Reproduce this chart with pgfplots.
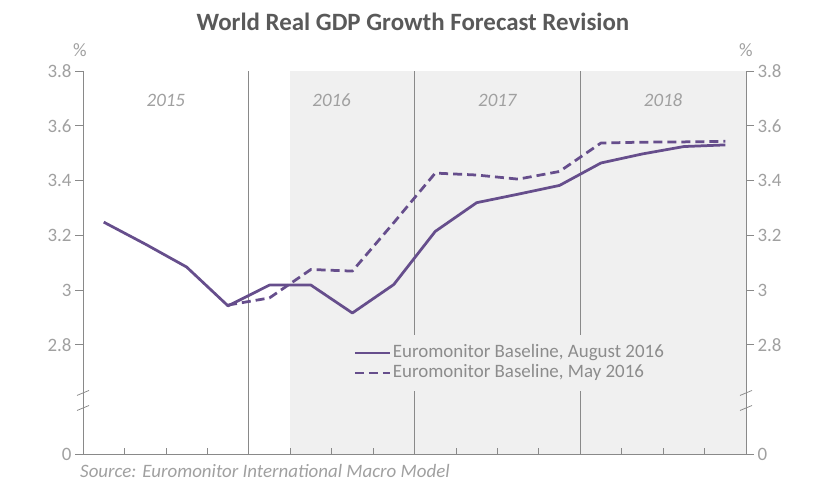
\documentclass[border=0pt]{standalone}
\usepackage{pgfplots}
\pgfplotsset{compat=1.18}
\usepackage{fontspec}
\setmainfont{Carlito}
\definecolor{purp}{RGB}{102,78,140}
\definecolor{bgshade}{RGB}{240,240,240}
\definecolor{axgray}{RGB}{137,137,137}
\definecolor{lblgray}{RGB}{160,160,160}
\definecolor{txtgray}{RGB}{140,140,140}
\definecolor{titlegray}{RGB}{89,89,89}
\begin{document}
\begin{tikzpicture}[x=1bp,y=1bp]
\path[use as bounding box] (0,0) rectangle (830,493);
\begin{axis}[
  at={(83bp,39bp)}, anchor=south west,
  scale only axis, width=663bp, height=383bp,
  xmin=0, xmax=16, ymin=2.401, ymax=3.8,
  axis line style={draw=none},
  xtick=\empty,
  ytick={2.401,2.8,3,3.2,3.4,3.6,3.8},
  yticklabels={0,2.8,3,3.2,3.4,3.6,3.8},
  ytick pos=left, tick align=outside, major tick length=8bp,
  tick style={axgray, line width=0.75bp},
  yticklabel style={font=\fontsize{19}{22}\selectfont, text=lblgray},
  /pgf/number format/assume math mode=true,
  clip=false,
  legend style={at={(axis cs:6.38,2.836)}, anchor=north west, draw=none, fill=bgshade,
    font=\fontsize{19}{20}\selectfont, text=txtgray, inner xsep=6bp, inner ysep=8bp,
    row sep=0bp, nodes={inner sep=1.5bp, text height=13bp, text depth=4bp},
    cells={anchor=west}},
  legend image code/.code={\draw[#1] (0bp,0bp) -- (35bp,0bp);},
]
\fill[bgshade] (axis cs:5,2.401) rectangle (axis cs:16,3.8);
\draw[axgray, line width=0.75bp] (axis cs:4,2.401) -- (axis cs:4,3.8);
\draw[axgray, line width=0.75bp] (axis cs:8,2.401) -- (axis cs:8,3.8);
\draw[axgray, line width=0.75bp] (axis cs:12,2.401) -- (axis cs:12,3.8);
\draw[axgray, line width=0.75bp] (axis cs:0,3.8) -- (axis cs:0,2.401) -- (axis cs:16,2.401) -- (axis cs:16,3.8);
\pgfplotsinvokeforeach{1,...,15}{\draw[axgray, line width=0.75bp] (axis cs:#1,2.401) -- ++(0bp,6bp);}
\draw[axgray, line width=0.75bp] (axis cs:0,2.624) ++(-6bp,-2.5bp) -- ++(12bp,5bp);
\draw[axgray, line width=0.75bp] (axis cs:0,2.569) ++(-6bp,-2.5bp) -- ++(12bp,5bp);
\draw[axgray, line width=0.75bp] (axis cs:16,2.624) ++(-6bp,-2.5bp) -- ++(12bp,5bp);
\draw[axgray, line width=0.75bp] (axis cs:16,2.569) ++(-6bp,-2.5bp) -- ++(12bp,5bp);
\node[font=\itshape\fontsize{19}{22}\selectfont, text=lblgray] at (axis cs:2,3.694) {2015};
\node[font=\itshape\fontsize{19}{22}\selectfont, text=lblgray] at (axis cs:6,3.694) {2016};
\node[font=\itshape\fontsize{19}{22}\selectfont, text=lblgray] at (axis cs:10,3.694) {2017};
\node[font=\itshape\fontsize{19}{22}\selectfont, text=lblgray] at (axis cs:14,3.694) {2018};
\addplot[purp, line width=2.75bp, line join=round] coordinates {
(0.5,3.248) (1.5,3.168) (2.5,3.084) (3.5,2.942) (4.5,3.018) (5.5,3.018) (6.5,2.916) (7.5,3.020)
(8.5,3.214) (9.5,3.319) (10.5,3.350) (11.5,3.382) (12.5,3.464) (13.5,3.497) (14.5,3.524) (15.5,3.530)};
\addlegendentry{Euromonitor Baseline, August 2016}
\addplot[purp, line width=2.75bp, line join=round, dash pattern=on 9bp off 5bp] coordinates {
(3.5,2.945) (4.5,2.971) (5.5,3.075) (6.5,3.069) (7.5,3.246) (8.5,3.427) (9.5,3.420) (10.5,3.405)
(11.5,3.433) (12.5,3.537) (13.5,3.540) (14.5,3.541) (15.5,3.543)};
\addlegendentry{Euromonitor Baseline, May 2016}
\end{axis}
\begin{axis}[
  at={(83bp,39bp)}, anchor=south west,
  scale only axis, width=663bp, height=383bp,
  xmin=0, xmax=16, ymin=2.401, ymax=3.8,
  axis line style={draw=none},
  xtick=\empty,
  ytick={2.401,2.8,3,3.2,3.4,3.6,3.8},
  yticklabels={0,2.8,3,3.2,3.4,3.6,3.8},
  ytick pos=right, yticklabel pos=right, tick align=outside, major tick length=8bp,
  tick style={axgray, line width=0.75bp},
  yticklabel style={font=\fontsize{19}{22}\selectfont, text=lblgray},
  /pgf/number format/assume math mode=true,
]
\end{axis}
\node[font=\bfseries\fontsize{25}{30}\selectfont, text=titlegray] at (413,471) {World Real GDP Growth Forecast Revision};
\node[font=\itshape\fontsize{19}{22}\selectfont, text=lblgray, anchor=west, inner sep=0pt] at (80,22) {Source: Euromonitor International Macro Model};
\node[font=\fontsize{19}{22}\selectfont, text=lblgray] at (80,443) {\%};
\node[font=\fontsize{19}{22}\selectfont, text=lblgray] at (746,443) {\%};
\end{tikzpicture}
\end{document}
